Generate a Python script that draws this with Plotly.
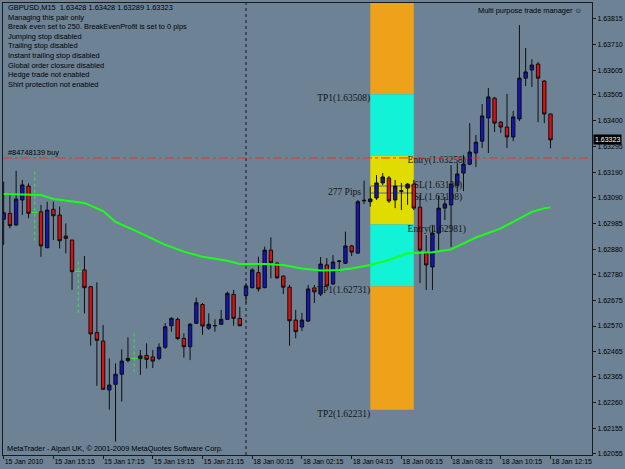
import plotly.graph_objects as go

# ---------------- data ----------------
candle_idx = [0, 1, 2, 3, 4, 6, 7, 8, 9, 10, 11, 13, 14, 15, 16, 17, 18, 19, 20, 22, 23,
              24, 25, 26, 27, 28, 29, 30, 31, 32, 33, 34, 35, 36, 37, 38, 39, 40, 41, 42,
              43, 44, 45, 46, 47, 48, 49, 50, 51, 52, 53, 54, 55, 56, 57, 58, 59, 60, 61,
              62, 63, 64, 65, 66, 67, 68, 69, 70, 71, 72, 73, 74, 75, 76, 77, 78, 79, 80,
              81, 82, 83, 84, 85, 86, 87, 88]
opens = [1.63002, 1.63026, 1.62979, 1.63080, 1.63136, 1.63032, 1.62887, 1.63042, 1.63019, 1.62934,
         1.62918, 1.62797, 1.62729, 1.62544, 1.62509, 1.62311, 1.62334, 1.62375, 1.62430, 1.62438,
         1.62451, 1.62445, 1.62439, 1.62484, 1.62571, 1.62597, 1.62520, 1.62486, 1.62581, 1.62657,
         1.62561, 1.62572, 1.62577, 1.62597, 1.62698, 1.62601, 1.62693, 1.62725, 1.62786, 1.62725,
         1.62877, 1.62824, 1.62772, 1.62727, 1.62594, 1.62566, 1.62590, 1.62724, 1.62699, 1.62817,
         1.62740, 1.62831, 1.62824, 1.62894, 1.62865, 1.63079, 1.63073, 1.63088, 1.63149, 1.63169,
         1.63080, 1.63115, 1.63128, 1.63144, 1.63051, 1.62865, 1.62809, 1.62946, 1.63047, 1.63060,
         1.63140, 1.63189, 1.63225, 1.63270, 1.63318, 1.63412, 1.63492, 1.63395, 1.63375, 1.63335,
         1.63408, 1.63573, 1.63606, 1.63630, 1.63561, 1.63428]
highs = [1.63154, 1.63109, 1.63198, 1.63161, 1.63147, 1.63060, 1.63073, 1.63073, 1.63053, 1.62985,
         1.62918, 1.62853, 1.62732, 1.62747, 1.62574, 1.62439, 1.62419, 1.62476, 1.62524, 1.62473,
         1.62500, 1.62473, 1.62500, 1.62582, 1.62606, 1.62604, 1.62540, 1.62582, 1.62685, 1.62663,
         1.62621, 1.62597, 1.62635, 1.62709, 1.62716, 1.62648, 1.62743, 1.62803, 1.62850, 1.62891,
         1.62929, 1.62830, 1.62774, 1.62736, 1.62635, 1.62623, 1.62736, 1.62736, 1.62849, 1.62845,
         1.62857, 1.62837, 1.62952, 1.62898, 1.63080, 1.63158, 1.63134, 1.63181, 1.63189, 1.63177,
         1.63161, 1.63149, 1.63149, 1.63161, 1.63100, 1.62938, 1.62979, 1.63096, 1.63092, 1.63221,
         1.63229, 1.63262, 1.63391, 1.63343, 1.63468, 1.63533, 1.63497, 1.63399, 1.63509, 1.63440,
         1.63788, 1.63695, 1.63650, 1.63638, 1.63565, 1.63428]
lows = [1.62898, 1.62965, 1.62975, 1.63019, 1.63006, 1.62850, 1.62884, 1.62918, 1.62884, 1.62864,
        1.62716, 1.62621, 1.62490, 1.62328, 1.62312, 1.62231, 1.62102, 1.62264, 1.62423, 1.62372,
        1.62398, 1.62400, 1.62432, 1.62477, 1.62547, 1.62513, 1.62442, 1.62432, 1.62578, 1.62534,
        1.62554, 1.62547, 1.62574, 1.62594, 1.62571, 1.62569, 1.62662, 1.62722, 1.62709, 1.62723,
        1.62763, 1.62760, 1.62699, 1.62490, 1.62520, 1.62550, 1.62586, 1.62663, 1.62691, 1.62728,
        1.62736, 1.62790, 1.62821, 1.62853, 1.62862, 1.63063, 1.63053, 1.63080, 1.63140, 1.63068,
        1.63047, 1.63039, 1.63060, 1.63039, 1.62744, 1.62716, 1.62716, 1.62877, 1.62999, 1.62890,
        1.63112, 1.63116, 1.63221, 1.63213, 1.63290, 1.63270, 1.63355, 1.63351, 1.63290, 1.63318,
        1.63399, 1.63541, 1.63537, 1.63395, 1.63391, 1.63289]
closes = [1.63028, 1.62976, 1.63084, 1.63141, 1.63026, 1.62894, 1.63039, 1.63016, 1.62915, 1.62925,
          1.62790, 1.62725, 1.62538, 1.62512, 1.62314, 1.62331, 1.62375, 1.62428, 1.62439, 1.62449,
          1.62435, 1.62428, 1.62484, 1.62567, 1.62601, 1.62519, 1.62486, 1.62577, 1.62664, 1.62570,
          1.62577, 1.62571, 1.62597, 1.62702, 1.62601, 1.62571, 1.62732, 1.62797, 1.62720, 1.62877,
          1.62826, 1.62765, 1.62727, 1.62591, 1.62547, 1.62594, 1.62720, 1.62708, 1.62821, 1.62732,
          1.62829, 1.62833, 1.62894, 1.62869, 1.63073, 1.63077, 1.63084, 1.63149, 1.63173, 1.63076,
          1.63136, 1.63117, 1.63144, 1.63047, 1.62877, 1.62817, 1.62946, 1.63047, 1.63064, 1.63145,
          1.63185, 1.63225, 1.63274, 1.63314, 1.63420, 1.63497, 1.63391, 1.63375, 1.63335, 1.63416,
          1.63573, 1.63598, 1.63626, 1.63573, 1.63428, 1.63323]

# green dotted indicator bars
mark_idx = [5, 12, 21]
mark_high = [1.63194, 1.62830, 1.62540]
mark_low = [1.62905, 1.62621, 1.62385]
mark_mid = [1.63030, 1.62791, 1.62439]

# moving average
ma_idx = [0, 6, 8, 13, 16, 18, 21, 24, 26, 29, 32, 36, 38, 42, 45, 48, 51, 54, 56, 59,
          62, 65, 69, 72, 76, 80, 83, 85, 87, 88]
ma_val = [1.63104, 1.63100, 1.63084, 1.63068, 1.63035, 1.62991, 1.62958, 1.62922, 1.62898, 1.62871,
          1.62850, 1.62834, 1.62821, 1.62821, 1.62817, 1.62803, 1.62795, 1.62797, 1.62803, 1.62817,
          1.62837, 1.62864, 1.62868, 1.62880, 1.62928, 1.62965, 1.63006, 1.63032, 1.63046, 1.63050]

# trade levels
buy_tp2 = 1.64008
buy_tp1 = 1.63508
buy_entry = 1.63258
sell_entry = 1.62981
sell_tp1 = 1.62731
sell_tp2 = 1.62231
sl_levels = [1.63136, 1.63108]
pips_text = "277 Pips"
order_price = 1.63250
order_label = "#84748139 buy"
box_start, box_end = 59, 66
day_sep_idx = 39
last_price = 1.63323

x_tick_idx = [0, 8, 16, 24, 32, 40, 48, 56, 64, 72, 80, 88]
x_tick_text = ["15 Jan 2010", "15 Jan 15:15", "15 Jan 17:15", "15 Jan 19:15", "15 Jan 21:15",
               "18 Jan 00:15", "18 Jan 02:15", "18 Jan 04:15", "18 Jan 06:15", "18 Jan 08:15",
               "18 Jan 10:15", "18 Jan 12:15"]
y_tick_vals = [1.63815, 1.63710, 1.63605, 1.63505, 1.63400, 1.63295, 1.63190, 1.63090, 1.62985,
               1.62880, 1.62780, 1.62675, 1.62570, 1.62465, 1.62365, 1.62260, 1.62155, 1.62055]

info_lines = ["GBPUSD,M15  1.63428 1.63428 1.63289 1.63323",
              "Managing this pair only",
              "Break even set to 250. BreakEvenProfit is set to 0 pips",
              "Jumping stop disabled",
              "Trailing stop disabled",
              "Instant trailing stop disabled",
              "Global order closure disabled",
              "Hedge trade not enabled",
              "Shirt protection not enabled"]

# ---------------- style ----------------
BG = "#6e8295"
ORANGE = "#eea11a"
CYAN = "#12f2d6"
YELLOW = "#e0dc00"
SANS = "Liberation Sans"
SERIF = "Liberation Serif"

fig = go.Figure()

# zones
zones = [(buy_tp1, buy_tp2, ORANGE), (buy_entry, buy_tp1, CYAN), (sell_entry, buy_entry, YELLOW),
         (sell_tp1, sell_entry, CYAN), (sell_tp2, sell_tp1, ORANGE)]
for lo, hi, col in zones:
    fig.add_shape(type="rect", xref="x", yref="y", x0=box_start, x1=box_end, y0=lo, y1=hi,
                  fillcolor=col, line=dict(width=0), layer="below")
for s in sl_levels:
    fig.add_shape(type="line", xref="x", yref="y", x0=box_start, x1=box_end, y0=s, y1=s,
                  line=dict(color="#8a8a70", width=1.5), layer="below")
fig.add_shape(type="line", xref="x", yref="paper", x0=day_sep_idx, x1=day_sep_idx, y0=0, y1=1,
              line=dict(color="#1a1a1a", width=1, dash="dot"), layer="below")

# level labels
lbl_font = dict(family=SERIF, size=9.5, color="#141414")
def add_label(x, y, text, pos):
    fig.add_trace(go.Scatter(x=[x], y=[y], mode="text", text=[text], textposition=pos,
                             textfont=lbl_font, hoverinfo="skip", showlegend=False))

add_label(box_start, buy_tp1, f"TP1({buy_tp1:.5f})", "bottom left")
add_label(box_end - 1, buy_entry, f"Entry({buy_entry:.5f})", "bottom right")
add_label(box_end - 1, sell_entry, f"Entry({sell_entry:.5f})", "bottom right")
add_label(box_start, sell_tp1, f"TP1({sell_tp1:.5f})", "bottom left")
add_label(box_start, sell_tp2, f"TP2({sell_tp2:.5f})", "bottom left")
add_label(box_end, sl_levels[0], f"SL({sl_levels[0]:.5f})", "middle right")
add_label(box_end, sl_levels[1], f"SL({sl_levels[1]:.5f})", "bottom right")
add_label(box_start - 1.5, sl_levels[1], pips_text, "middle left")

# candles
fig.add_trace(go.Candlestick(
    x=candle_idx, open=opens, high=highs, low=lows, close=closes,
    increasing=dict(line=dict(color="#0e0e0e", width=1), fillcolor="#1414b8"),
    decreasing=dict(line=dict(color="#0e0e0e", width=1), fillcolor="#e01010"),
    whiskerwidth=0, hoverinfo="skip", showlegend=False))

# green dotted indicator bars
mx, my = [], []
for i, h, l in zip(mark_idx, mark_high, mark_low):
    mx += [i, i, None]
    my += [h, l, None]
fig.add_trace(go.Scatter(x=mx, y=my, mode="lines", line=dict(color="#33ee33", width=1, dash="dot"),
                         hoverinfo="skip", showlegend=False))
fig.add_trace(go.Scatter(x=mark_idx, y=mark_mid, mode="markers",
                         marker=dict(symbol="line-ew", size=5, line=dict(color="#33ee33", width=1)),
                         hoverinfo="skip", showlegend=False))

# MA
fig.add_trace(go.Scatter(x=ma_idx, y=ma_val, mode="lines", line=dict(color="#1aff1a", width=2),
                         hoverinfo="skip", showlegend=False))

# order line
fig.add_shape(type="line", xref="paper", yref="y", x0=0, x1=1, y0=order_price, y1=order_price,
              line=dict(color="#ff2a2a", width=1, dash="dashdot"), layer="above")

ann_font = dict(family=SANS, size=7.4, color="#000000")
fig.add_annotation(xref="paper", yref="y", x=0, y=order_price, text=order_label, showarrow=False,
                   xanchor="left", yanchor="bottom", xshift=3, yshift=-1, font=ann_font)
fig.add_annotation(xref="paper", yref="paper", x=0, y=1, text="<br>".join(info_lines),
                   showarrow=False, xanchor="left", yanchor="top", align="left", xshift=3, yshift=2,
                   font=ann_font)
fig.add_annotation(xref="paper", yref="paper", x=1, y=1, text="Multi purpose trade manager ☺",
                   showarrow=False, xanchor="right", yanchor="top", xshift=-8, yshift=-1,
                   font=dict(family=SANS, size=7.4, color="#000000"))
fig.add_annotation(xref="paper", yref="paper", x=0, y=0,
                   text="MetaTrader - Alpari UK, © 2001-2009 MetaQuotes Software Corp.",
                   showarrow=False, xanchor="left", yanchor="bottom", xshift=2, font=ann_font)
fig.add_annotation(xref="paper", yref="y", x=1, y=last_price, text=f"{last_price:.5f}",
                   showarrow=False, xanchor="left", yanchor="middle", bgcolor="#000000",
                   borderpad=1, xshift=1, font=dict(family=SANS, size=7, color="#ffffff"))

axis_font = dict(family=SANS, size=7, color="#000000")
fig.update_layout(
    width=625, height=469, margin=dict(l=2, r=31, t=3, b=14),
    paper_bgcolor=BG, plot_bgcolor=BG, showlegend=False, boxgap=0.22,
    xaxis=dict(range=[-0.11, 94.68], tickmode="array", tickvals=x_tick_idx, ticktext=x_tick_text,
               showgrid=False, zeroline=False, showline=True, linecolor="#1a1a1a", linewidth=1,
               mirror=True, ticks="outside", ticklen=3, tickcolor="#1a1a1a", tickfont=axis_font,
               ticklabelposition="outside right", rangeslider=dict(visible=False), fixedrange=True),
    yaxis=dict(side="right", range=[1.62048, 1.63877], tickmode="array", tickvals=y_tick_vals,
               tickformat=".5f", showgrid=False, zeroline=False, showline=True,
               linecolor="#1a1a1a", linewidth=1, mirror=True, ticks="outside", ticklen=3,
               tickcolor="#1a1a1a", tickfont=axis_font, fixedrange=True),
)

fig.write_html("out.html")
